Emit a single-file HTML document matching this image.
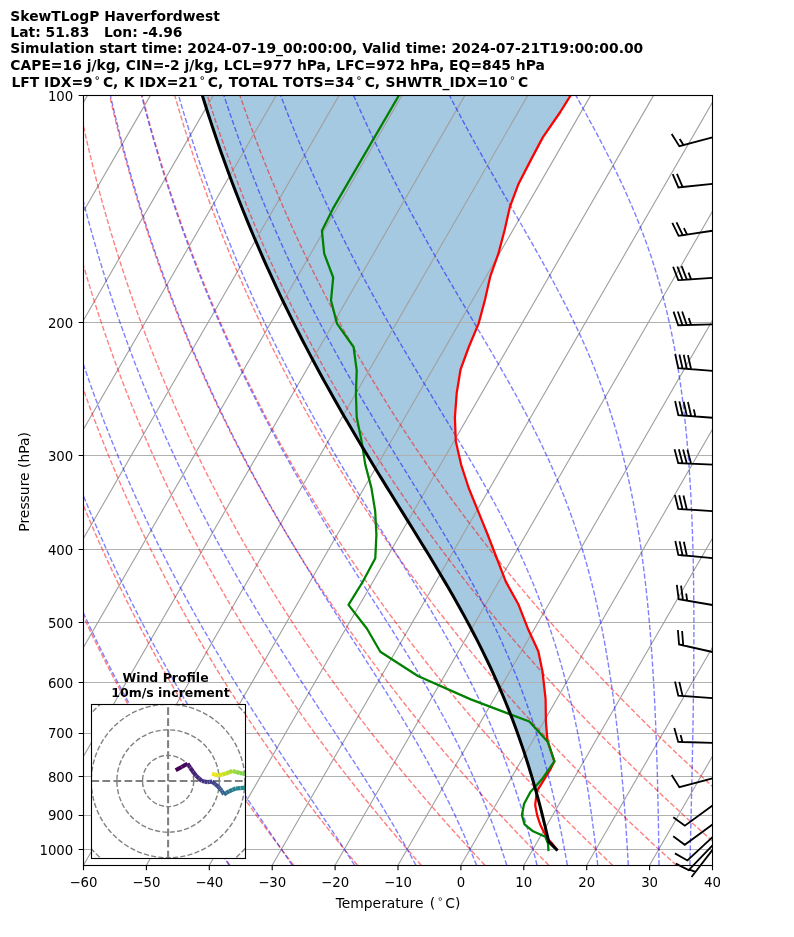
<!DOCTYPE html>
<html lang="en"><head><meta charset="utf-8"><title>SkewTLogP Haverfordwest</title>
<style>html,body{margin:0;padding:0;background:#fff}svg{display:block}</style></head>
<body>
<svg width="794" height="937" viewBox="0 0 794 937">
<defs><clipPath id="ax"><rect x="83.5" y="95.4" width="629.0" height="769.90"/></clipPath>
<clipPath id="ins"><rect x="91.4" y="704.6" width="154.1" height="153.8"/></clipPath></defs>
<rect width="794" height="937" fill="#fff"/>
<g clip-path="url(#ax)" fill="none">
<path d="M570.6 95.4 L569.16 97.73 L567.71 100.06 L566.27 102.38 L564.82 104.71 L563.38 107.04 L561.93 109.37 L560.49 111.69 L560.3 112 L558.91 114.02 L557.3 116.35 L555.7 118.68 L554.1 121.01 L552.49 123.33 L550.89 125.66 L549.28 127.99 L547.68 130.32 L546.08 132.64 L544.47 134.97 L542.87 137.3 L542.8 137.4 L541.62 139.63 L540.38 141.96 L539.15 144.28 L537.92 146.61 L536.68 148.94 L535.45 151.27 L534.21 153.59 L532.98 155.92 L531.75 158.25 L530.51 160.58 L530.5 160.6 L529.31 162.91 L528.11 165.23 L526.91 167.56 L525.72 169.89 L524.52 172.22 L523.32 174.54 L522.12 176.87 L520.92 179.2 L519.72 181.53 L518.6 183.7 L518.54 183.85 L517.66 186.18 L516.79 188.51 L515.91 190.84 L515.03 193.17 L514.16 195.49 L513.28 197.82 L512.4 200.15 L511.53 202.48 L510.65 204.8 L509.9 206.8 L509.82 207.13 L509.3 209.46 L508.77 211.79 L508.24 214.12 L507.72 216.44 L507.19 218.77 L506.66 221.1 L506.13 223.43 L505.61 225.75 L505.08 228.08 L504.6 230.2 L504.54 230.41 L503.93 232.74 L503.31 235.07 L502.7 237.39 L502.08 239.72 L501.47 242.05 L500.85 244.38 L500.24 246.7 L499.62 249.03 L499.01 251.36 L498.6 252.9 L498.32 253.69 L497.49 256.02 L496.67 258.34 L495.84 260.67 L495.02 263 L494.19 265.33 L493.37 267.65 L492.54 269.98 L491.72 272.31 L490.89 274.64 L490.3 276.3 L490.15 276.97 L489.62 279.29 L489.09 281.62 L488.57 283.95 L488.04 286.28 L487.51 288.6 L486.99 290.93 L486.46 293.26 L485.93 295.59 L485.4 297.92 L485 299.7 L484.85 300.24 L484.23 302.57 L483.61 304.9 L482.98 307.23 L482.36 309.55 L481.74 311.88 L481.11 314.21 L480.49 316.54 L479.87 318.86 L479.24 321.19 L478.62 323.52 L478.6 323.6 L477.66 325.85 L476.68 328.18 L475.71 330.5 L474.73 332.83 L473.76 335.16 L472.78 337.49 L471.81 339.81 L470.83 342.14 L469.86 344.47 L468.88 346.8 L468.8 347 L468.02 349.13 L467.17 351.45 L466.32 353.78 L465.47 356.11 L464.62 358.44 L463.77 360.76 L462.92 363.09 L462.06 365.42 L461.21 367.75 L460.5 369.7 L460.44 370.08 L460.06 372.4 L459.68 374.73 L459.3 377.06 L458.93 379.39 L458.55 381.71 L458.17 384.04 L457.79 386.37 L457.41 388.7 L457.04 391.03 L456.7 393.1 L456.68 393.35 L456.51 395.68 L456.33 398.01 L456.16 400.34 L455.99 402.66 L455.82 404.99 L455.64 407.32 L455.47 409.65 L455.3 411.98 L455.12 414.3 L454.95 416.63 L454.9 417.3 L454.96 418.96 L455.05 421.29 L455.14 423.61 L455.23 425.94 L455.31 428.27 L455.4 430.6 L455.49 432.93 L455.58 435.25 L455.66 437.58 L455.75 439.91 L455.8 441.2 L456.03 442.24 L456.56 444.56 L457.09 446.89 L457.62 449.22 L458.14 451.55 L458.67 453.87 L459.2 456.2 L459.73 458.53 L460.25 460.86 L460.78 463.19 L461.1 464.6 L461.4 465.51 L462.15 467.84 L462.91 470.17 L463.66 472.5 L464.42 474.82 L465.18 477.15 L465.93 479.48 L466.69 481.81 L467.44 484.14 L468.2 486.46 L468.7 488 L469.02 488.79 L469.97 491.12 L470.91 493.45 L471.86 495.77 L472.8 498.1 L473.75 500.43 L474.69 502.76 L475.64 505.09 L476.58 507.41 L477.53 509.74 L478.2 511.4 L478.47 512.07 L479.42 514.4 L480.37 516.72 L481.31 519.05 L482.26 521.38 L483.21 523.71 L484.16 526.04 L485.1 528.36 L486.05 530.69 L487 533.02 L487.6 534.5 L487.93 535.35 L488.83 537.67 L489.73 540 L490.63 542.33 L491.53 544.66 L492.43 546.99 L493.34 549.31 L494.24 551.64 L495.14 553.97 L496.04 556.3 L496.7 558 L496.94 558.62 L497.84 560.95 L498.73 563.28 L499.63 565.61 L500.52 567.94 L501.42 570.26 L502.31 572.59 L503.21 574.92 L504.1 577.25 L505 579.57 L505.7 581.4 L505.98 581.9 L507.26 584.23 L508.54 586.56 L509.83 588.88 L511.11 591.21 L512.39 593.54 L513.68 595.87 L514.96 598.2 L516.24 600.52 L517.53 602.85 L518.6 604.8 L518.75 605.18 L519.65 607.51 L520.56 609.83 L521.46 612.16 L522.37 614.49 L523.27 616.82 L524.18 619.15 L525.08 621.47 L525.99 623.8 L526.89 626.13 L527.7 628.2 L527.82 628.46 L528.89 630.78 L529.95 633.11 L531.02 635.44 L532.09 637.77 L533.16 640.1 L534.23 642.42 L535.29 644.75 L536.36 647.08 L537.43 649.41 L538.3 651.3 L538.39 651.73 L538.87 654.06 L539.36 656.39 L539.84 658.72 L540.33 661.05 L540.81 663.37 L541.29 665.7 L541.78 668.03 L542.26 670.36 L542.5 671.5 L542.63 672.68 L542.89 675.01 L543.15 677.34 L543.41 679.67 L543.67 682 L543.94 684.32 L544.2 686.65 L544.46 688.98 L544.72 691.31 L544.98 693.63 L545.24 695.96 L545.5 698.29 L545.6 699.2 L545.62 700.62 L545.65 702.95 L545.68 705.27 L545.71 707.6 L545.75 709.93 L545.78 712.26 L545.81 714.58 L545.84 716.91 L545.87 719.24 L545.9 721.3 L545.92 721.57 L546.11 723.89 L546.3 726.22 L546.49 728.55 L546.67 730.88 L546.86 733.21 L547.05 735.53 L547.24 737.86 L547.43 740.19 L547.5 741.1 L547.98 742.52 L548.78 744.84 L549.57 747.17 L550.37 749.5 L551.16 751.83 L551.96 754.16 L552.75 756.48 L553.55 758.81 L554.35 761.14 L554.4 761.3 L553.33 763.47 L552.18 765.79 L551.03 768.12 L550.1 770 L549.82 770.45 L548.37 772.78 L546.91 775.11 L545.46 777.43 L544 779.76 L542.55 782.09 L541.1 784.42 L539.64 786.74 L538.19 789.07 L536.8 791.3 L536.79 791.4 L536.06 791.4 L536.03 791.3 L535.41 789.07 L534.74 786.74 L534.08 784.42 L533.4 782.09 L532.72 779.76 L532.03 777.43 L531.34 775.11 L530.64 772.78 L529.93 770.45 L529.79 770 L529.21 768.12 L528.49 765.79 L527.76 763.47 L527.07 761.3 L527.02 761.14 L526.27 758.81 L525.52 756.48 L524.76 754.16 L523.99 751.83 L523.21 749.5 L522.43 747.17 L521.63 744.84 L520.84 742.52 L520.34 741.1 L520.02 740.19 L519.21 737.86 L518.38 735.53 L517.55 733.21 L516.71 730.88 L515.86 728.55 L515 726.22 L514.14 723.89 L513.26 721.57 L513.16 721.3 L512.38 719.24 L511.48 716.91 L510.58 714.58 L509.67 712.26 L508.76 709.93 L507.83 707.6 L506.89 705.27 L505.94 702.95 L504.99 700.62 L504.41 699.2 L504.03 698.29 L503.06 695.96 L502.08 693.63 L501.09 691.31 L500.09 688.98 L499.08 686.65 L498.06 684.32 L497.04 682 L496 679.67 L494.96 677.34 L493.91 675.01 L492.85 672.68 L492.31 671.5 L491.78 670.36 L490.7 668.03 L489.61 665.7 L488.51 663.37 L487.4 661.05 L486.29 658.72 L485.16 656.39 L484.03 654.06 L482.89 651.73 L482.67 651.3 L481.74 649.41 L480.58 647.08 L479.41 644.75 L478.23 642.42 L477.05 640.1 L475.86 637.77 L474.65 635.44 L473.44 633.11 L472.22 630.78 L471 628.46 L470.86 628.2 L469.76 626.13 L468.52 623.8 L467.27 621.47 L466.01 619.15 L464.74 616.82 L463.47 614.49 L462.19 612.16 L460.9 609.83 L459.61 607.51 L458.31 605.18 L458.09 604.8 L457 602.85 L455.68 600.52 L454.36 598.2 L453.03 595.87 L451.69 593.54 L450.35 591.21 L449 588.88 L447.65 586.56 L446.29 584.23 L444.93 581.9 L444.63 581.4 L443.56 579.57 L442.18 577.25 L440.8 574.92 L439.42 572.59 L438.03 570.26 L436.64 567.94 L435.24 565.61 L433.84 563.28 L432.43 560.95 L431.02 558.62 L430.64 558 L429.6 556.3 L428.19 553.97 L426.77 551.64 L425.35 549.31 L423.92 546.99 L422.49 544.66 L421.06 542.33 L419.63 540 L418.19 537.67 L416.75 535.35 L416.23 534.5 L415.31 533.02 L413.87 530.69 L412.43 528.36 L410.99 526.04 L409.54 523.71 L408.1 521.38 L406.65 519.05 L405.2 516.72 L403.75 514.4 L402.31 512.07 L401.89 511.4 L400.86 509.74 L399.41 507.41 L397.97 505.09 L396.52 502.76 L395.07 500.43 L393.63 498.1 L392.18 495.77 L390.74 493.45 L389.3 491.12 L387.85 488.79 L387.36 488 L386.41 486.46 L384.97 484.14 L383.54 481.81 L382.1 479.48 L380.67 477.15 L379.24 474.82 L377.81 472.5 L376.38 470.17 L374.96 467.84 L373.53 465.51 L372.98 464.6 L372.12 463.19 L370.7 460.86 L369.28 458.53 L367.87 456.2 L366.46 453.87 L365.06 451.55 L363.66 449.22 L362.26 446.89 L360.86 444.56 L359.47 442.24 L358.85 441.2 L358.08 439.91 L356.69 437.58 L355.31 435.25 L353.93 432.93 L352.56 430.6 L351.18 428.27 L349.82 425.94 L348.45 423.61 L347.09 421.29 L345.74 418.96 L344.77 417.3 L344.39 416.63 L343.04 414.3 L341.69 411.98 L340.36 409.65 L339.02 407.32 L337.69 404.99 L336.36 402.66 L335.04 400.34 L333.72 398.01 L332.41 395.68 L331.1 393.35 L330.96 393.1 L329.79 391.03 L328.49 388.7 L327.2 386.37 L325.91 384.04 L324.62 381.71 L323.34 379.39 L322.06 377.06 L320.79 374.73 L319.52 372.4 L318.25 370.08 L318.05 369.7 L317 367.75 L315.74 365.42 L314.49 363.09 L313.25 360.76 L312.01 358.44 L310.77 356.11 L309.54 353.78 L308.32 351.45 L307.1 349.13 L305.98 347 L305.88 346.8 L304.67 344.47 L303.46 342.14 L302.26 339.81 L301.06 337.49 L299.87 335.16 L298.68 332.83 L297.5 330.5 L296.32 328.18 L295.15 325.85 L294.02 323.6 L293.98 323.52 L292.82 321.19 L291.66 318.86 L290.51 316.54 L289.36 314.21 L288.22 311.88 L287.08 309.55 L285.95 307.23 L284.82 304.9 L283.69 302.57 L282.57 300.24 L282.31 299.7 L281.46 297.92 L280.35 295.59 L279.25 293.26 L278.14 290.93 L277.05 288.6 L275.96 286.28 L274.87 283.95 L273.79 281.62 L272.72 279.29 L271.65 276.97 L271.34 276.3 L270.58 274.64 L269.52 272.31 L268.46 269.98 L267.41 267.65 L266.37 265.33 L265.32 263 L264.29 260.67 L263.25 258.34 L262.22 256.02 L261.2 253.69 L260.86 252.9 L260.18 251.36 L259.17 249.03 L258.16 246.7 L257.16 244.38 L256.16 242.05 L255.16 239.72 L254.17 237.39 L253.19 235.07 L252.21 232.74 L251.23 230.41 L251.14 230.2 L250.26 228.08 L249.29 225.75 L248.33 223.43 L247.37 221.1 L246.42 218.77 L245.47 216.44 L244.53 214.12 L243.59 211.79 L242.66 209.46 L241.73 207.13 L241.59 206.8 L240.8 204.8 L239.88 202.48 L238.96 200.15 L238.06 197.82 L237.15 195.49 L236.25 193.17 L235.35 190.84 L234.46 188.51 L233.56 186.18 L232.68 183.85 L232.62 183.7 L231.8 181.53 L230.93 179.2 L230.06 176.87 L229.19 174.54 L228.33 172.22 L227.47 169.89 L226.62 167.56 L225.77 165.23 L224.93 162.91 L224.1 160.6 L224.09 160.58 L223.25 158.25 L222.42 155.92 L221.6 153.59 L220.78 151.27 L219.96 148.94 L219.14 146.61 L218.33 144.28 L217.53 141.96 L216.73 139.63 L215.97 137.4 L215.94 137.3 L215.14 134.97 L214.36 132.64 L213.57 130.32 L212.8 127.99 L212.02 125.66 L211.25 123.33 L210.49 121.01 L209.73 118.68 L208.97 116.35 L208.22 114.02 L207.57 112 L207.47 111.69 L206.72 109.37 L205.98 107.04 L205.25 104.71 L204.52 102.38 L203.79 100.06 L203.07 97.73 L202.35 95.4Z" fill="#1f77b4" fill-opacity="0.4" stroke="none"/>
<path d="M83.5 95.5 H712.5" stroke="#b0b0b0" stroke-width="1.11"/>
<path d="M83.5 322.5 H712.5" stroke="#b0b0b0" stroke-width="1.11"/>
<path d="M83.5 455.5 H712.5" stroke="#b0b0b0" stroke-width="1.11"/>
<path d="M83.5 549.5 H712.5" stroke="#b0b0b0" stroke-width="1.11"/>
<path d="M83.5 622.5 H712.5" stroke="#b0b0b0" stroke-width="1.11"/>
<path d="M83.5 682.5 H712.5" stroke="#b0b0b0" stroke-width="1.11"/>
<path d="M83.5 733.5 H712.5" stroke="#b0b0b0" stroke-width="1.11"/>
<path d="M83.5 776.5 H712.5" stroke="#b0b0b0" stroke-width="1.11"/>
<path d="M83.5 815.5 H712.5" stroke="#b0b0b0" stroke-width="1.11"/>
<path d="M83.5 849.5 H712.5" stroke="#b0b0b0" stroke-width="1.11"/>
<path d="M-419.7 865.24 L24.6 95.4 M-356.8 865.24 L87.5 95.4 M-293.9 865.24 L150.4 95.4 M-231 865.24 L213.3 95.4 M-168.1 865.24 L276.2 95.4 M-105.2 865.24 L339.1 95.4 M-42.3 865.24 L402 95.4 M20.6 865.24 L464.9 95.4 M83.5 865.24 L527.8 95.4 M146.4 865.24 L590.7 95.4 M209.3 865.24 L653.6 95.4 M272.2 865.24 L716.5 95.4 M335.1 865.24 L779.4 95.4 M398 865.24 L842.3 95.4 M460.9 865.24 L905.2 95.4 M523.8 865.24 L968.1 95.4 M586.7 865.24 L1031 95.4 M649.6 865.24 L1093.9 95.4 M712.5 865.24 L1156.8 95.4" stroke="#a0a0a0" stroke-width="1.11"/>
<path d="M229.89 865.24 L222.92 855.5 L216.06 845.75 L209.3 836.01 L202.65 826.26 L196.1 816.52 L189.66 806.77 L183.32 797.03 L177.08 787.28 L170.94 777.54 L164.9 767.79 L158.95 758.05 L153.11 748.3 L147.36 738.56 L141.71 728.81 L136.16 719.07 L130.7 709.32 L125.33 699.58 L120.06 689.83 L114.88 680.09 L109.79 670.34 L104.79 660.6 L99.88 650.85 L95.06 641.11 L90.33 631.36 L85.69 621.62 L81.13 611.88 L76.66 602.13 L72.27 592.39 L67.97 582.64 L63.76 572.9 L59.63 563.15 L55.58 553.41 L51.61 543.66 L47.72 533.92 L43.91 524.17 L40.19 514.43 L36.54 504.68 L32.97 494.94 L29.48 485.19 L26.07 475.45 L22.73 465.7 L19.47 455.96 L16.28 446.21 L13.17 436.47 L10.13 426.72 L7.17 416.98 L4.27 407.23 L1.45 397.49 L-1.29 387.74 L-3.97 378 L-6.58 368.25 L-9.11 358.51 L-11.58 348.77 L-13.98 339.02 L-16.31 329.28 L-18.58 319.53 L-20.78 309.79 L-22.91 300.04 L-24.97 290.3 L-26.97 280.55 L-28.91 270.81 L-30.78 261.06 L-32.59 251.32 L-34.33 241.57 L-36.02 231.83 L-37.64 222.08 L-39.2 212.34 L-40.7 202.59 L-42.14 192.85 L-43.51 183.1 L-44.83 173.36 L-46.09 163.61 L-47.3 153.87 L-48.44 144.12 L-49.53 134.38 L-50.56 124.63 L-51.53 114.89 L-52.45 105.14 L-53.32 95.4 M293.67 865.24 L286.16 855.5 L278.76 845.75 L271.48 836.01 L264.3 826.26 L257.23 816.52 L250.27 806.77 L243.41 797.03 L236.66 787.28 L230.02 777.54 L223.48 767.79 L217.04 758.05 L210.71 748.3 L204.47 738.56 L198.34 728.81 L192.3 719.07 L186.37 709.32 L180.53 699.58 L174.79 689.83 L169.14 680.09 L163.6 670.34 L158.14 660.6 L152.78 650.85 L147.51 641.11 L142.34 631.36 L137.25 621.62 L132.26 611.88 L127.36 602.13 L122.54 592.39 L117.82 582.64 L113.18 572.9 L108.63 563.15 L104.16 553.41 L99.78 543.66 L95.49 533.92 L91.28 524.17 L87.15 514.43 L83.1 504.68 L79.14 494.94 L75.26 485.19 L71.46 475.45 L67.74 465.7 L64.09 455.96 L60.53 446.21 L57.04 436.47 L53.63 426.72 L50.3 416.98 L47.04 407.23 L43.86 397.49 L40.75 387.74 L37.72 378 L34.76 368.25 L31.87 358.51 L29.06 348.77 L26.32 339.02 L23.64 329.28 L21.04 319.53 L18.51 309.79 L16.04 300.04 L13.65 290.3 L11.32 280.55 L9.06 270.81 L6.87 261.06 L4.74 251.32 L2.68 241.57 L0.68 231.83 L-1.25 222.08 L-3.12 212.34 L-4.92 202.59 L-6.66 192.85 L-8.34 183.1 L-9.96 173.36 L-11.52 163.61 L-13.01 153.87 L-14.45 144.12 L-15.82 134.38 L-17.14 124.63 L-18.4 114.89 L-19.59 105.14 L-20.74 95.4 M357.45 865.24 L349.4 855.5 L341.47 845.75 L333.65 836.01 L325.95 826.26 L318.36 816.52 L310.88 806.77 L303.51 797.03 L296.25 787.28 L289.1 777.54 L282.06 767.79 L275.13 758.05 L268.3 748.3 L261.58 738.56 L254.96 728.81 L248.45 719.07 L242.04 709.32 L235.73 699.58 L229.52 689.83 L223.41 680.09 L217.4 670.34 L211.49 660.6 L205.68 650.85 L199.97 641.11 L194.35 631.36 L188.82 621.62 L183.39 611.88 L178.06 602.13 L172.81 592.39 L167.66 582.64 L162.6 572.9 L157.63 563.15 L152.75 553.41 L147.96 543.66 L143.26 533.92 L138.64 524.17 L134.11 514.43 L129.67 504.68 L125.31 494.94 L121.04 485.19 L116.85 475.45 L112.74 465.7 L108.72 455.96 L104.78 446.21 L100.92 436.47 L97.14 426.72 L93.43 416.98 L89.81 407.23 L86.27 397.49 L82.8 387.74 L79.41 378 L76.1 368.25 L72.86 358.51 L69.7 348.77 L66.61 339.02 L63.6 329.28 L60.66 319.53 L57.79 309.79 L54.99 300.04 L52.27 290.3 L49.61 280.55 L47.03 270.81 L44.51 261.06 L42.07 251.32 L39.69 241.57 L37.38 231.83 L35.14 222.08 L32.96 212.34 L30.85 202.59 L28.81 192.85 L26.83 183.1 L24.91 173.36 L23.06 163.61 L21.27 153.87 L19.55 144.12 L17.88 134.38 L16.28 124.63 L14.74 114.89 L13.26 105.14 L11.84 95.4 M421.23 865.24 L412.65 855.5 L404.18 845.75 L395.83 836.01 L387.6 826.26 L379.49 816.52 L371.49 806.77 L363.61 797.03 L355.84 787.28 L348.19 777.54 L340.65 767.79 L333.22 758.05 L325.9 748.3 L318.69 738.56 L311.59 728.81 L304.59 719.07 L297.71 709.32 L290.93 699.58 L284.25 689.83 L277.68 680.09 L271.21 670.34 L264.84 660.6 L258.58 650.85 L252.42 641.11 L246.35 631.36 L240.39 621.62 L234.52 611.88 L228.75 602.13 L223.08 592.39 L217.5 582.64 L212.02 572.9 L206.63 563.15 L201.34 553.41 L196.14 543.66 L191.02 533.92 L186 524.17 L181.07 514.43 L176.23 504.68 L171.48 494.94 L166.82 485.19 L162.24 475.45 L157.75 465.7 L153.35 455.96 L149.03 446.21 L144.79 436.47 L140.64 426.72 L136.57 416.98 L132.58 407.23 L128.68 397.49 L124.85 387.74 L121.11 378 L117.44 368.25 L113.85 358.51 L110.34 348.77 L106.91 339.02 L103.56 329.28 L100.28 319.53 L97.07 309.79 L93.94 300.04 L90.89 290.3 L87.91 280.55 L85 270.81 L82.16 261.06 L79.4 251.32 L76.7 241.57 L74.08 231.83 L71.53 222.08 L69.04 212.34 L66.63 202.59 L64.28 192.85 L62 183.1 L59.79 173.36 L57.64 163.61 L55.56 153.87 L53.54 144.12 L51.59 134.38 L49.71 124.63 L47.88 114.89 L46.12 105.14 L44.42 95.4 M485.02 865.24 L475.89 855.5 L466.89 845.75 L458.01 836.01 L449.25 826.26 L440.61 816.52 L432.1 806.77 L423.7 797.03 L415.43 787.28 L407.27 777.54 L399.23 767.79 L391.3 758.05 L383.49 748.3 L375.79 738.56 L368.21 728.81 L360.74 719.07 L353.37 709.32 L346.12 699.58 L338.98 689.83 L331.95 680.09 L325.02 670.34 L318.2 660.6 L311.48 650.85 L304.87 641.11 L298.36 631.36 L291.96 621.62 L285.65 611.88 L279.45 602.13 L273.35 592.39 L267.35 582.64 L261.44 572.9 L255.64 563.15 L249.93 553.41 L244.31 543.66 L238.79 533.92 L233.37 524.17 L228.04 514.43 L222.8 504.68 L217.65 494.94 L212.6 485.19 L207.63 475.45 L202.76 465.7 L197.97 455.96 L193.28 446.21 L188.66 436.47 L184.14 426.72 L179.7 416.98 L175.35 407.23 L171.08 397.49 L166.9 387.74 L162.8 378 L158.78 368.25 L154.84 358.51 L150.98 348.77 L147.21 339.02 L143.51 329.28 L139.89 319.53 L136.35 309.79 L132.89 300.04 L129.51 290.3 L126.2 280.55 L122.97 270.81 L119.81 261.06 L116.73 251.32 L113.72 241.57 L110.78 231.83 L107.91 222.08 L105.12 212.34 L102.4 202.59 L99.75 192.85 L97.17 183.1 L94.66 173.36 L92.22 163.61 L89.84 153.87 L87.54 144.12 L85.3 134.38 L83.13 124.63 L81.02 114.89 L78.98 105.14 L77 95.4 M548.8 865.24 L539.13 855.5 L529.59 845.75 L520.18 836.01 L510.9 826.26 L501.74 816.52 L492.71 806.77 L483.8 797.03 L475.02 787.28 L466.35 777.54 L457.81 767.79 L449.39 758.05 L441.09 748.3 L432.9 738.56 L424.83 728.81 L416.88 719.07 L409.04 709.32 L401.32 699.58 L393.71 689.83 L386.21 680.09 L378.83 670.34 L371.55 660.6 L364.38 650.85 L357.32 641.11 L350.37 631.36 L343.52 621.62 L336.78 611.88 L330.15 602.13 L323.62 592.39 L317.19 582.64 L310.86 572.9 L304.64 563.15 L298.51 553.41 L292.49 543.66 L286.56 533.92 L280.73 524.17 L275 514.43 L269.36 504.68 L263.82 494.94 L258.38 485.19 L253.03 475.45 L247.77 465.7 L242.6 455.96 L237.52 446.21 L232.54 436.47 L227.64 426.72 L222.84 416.98 L218.12 407.23 L213.49 397.49 L208.95 387.74 L204.49 378 L200.12 368.25 L195.83 358.51 L191.63 348.77 L187.51 339.02 L183.47 329.28 L179.51 319.53 L175.64 309.79 L171.84 300.04 L168.13 290.3 L164.49 280.55 L160.94 270.81 L157.46 261.06 L154.05 251.32 L150.73 241.57 L147.48 231.83 L144.3 222.08 L141.2 212.34 L138.18 202.59 L135.22 192.85 L132.34 183.1 L129.53 173.36 L126.8 163.61 L124.13 153.87 L121.53 144.12 L119.01 134.38 L116.55 124.63 L114.16 114.89 L111.84 105.14 L109.58 95.4 M612.58 865.24 L602.37 855.5 L592.3 845.75 L582.36 836.01 L572.55 826.26 L562.87 816.52 L553.32 806.77 L543.9 797.03 L534.6 787.28 L525.44 777.54 L516.39 767.79 L507.48 758.05 L498.68 748.3 L490.01 738.56 L481.46 728.81 L473.03 719.07 L464.71 709.32 L456.52 699.58 L448.44 689.83 L440.48 680.09 L432.63 670.34 L424.9 660.6 L417.28 650.85 L409.77 641.11 L402.38 631.36 L395.09 621.62 L387.92 611.88 L380.85 602.13 L373.89 592.39 L367.03 582.64 L360.28 572.9 L353.64 563.15 L347.1 553.41 L340.66 543.66 L334.33 533.92 L328.1 524.17 L321.96 514.43 L315.93 504.68 L309.99 494.94 L304.16 485.19 L298.42 475.45 L292.77 465.7 L287.23 455.96 L281.77 446.21 L276.41 436.47 L271.15 426.72 L265.97 416.98 L260.89 407.23 L255.9 397.49 L250.99 387.74 L246.18 378 L241.46 368.25 L236.82 358.51 L232.27 348.77 L227.8 339.02 L223.42 329.28 L219.13 319.53 L214.92 309.79 L210.79 300.04 L206.75 290.3 L202.79 280.55 L198.9 270.81 L195.1 261.06 L191.38 251.32 L187.74 241.57 L184.18 231.83 L180.69 222.08 L177.28 212.34 L173.95 202.59 L170.69 192.85 L167.51 183.1 L164.41 173.36 L161.37 163.61 L158.41 153.87 L155.53 144.12 L152.71 134.38 L149.97 124.63 L147.3 114.89 L144.7 105.14 L142.16 95.4 M676.37 865.24 L665.62 855.5 L655.01 845.75 L644.53 836.01 L634.2 826.26 L624 816.52 L613.93 806.77 L604 797.03 L594.19 787.28 L584.52 777.54 L574.98 767.79 L565.56 758.05 L556.28 748.3 L547.12 738.56 L538.08 728.81 L529.17 719.07 L520.38 709.32 L511.72 699.58 L503.17 689.83 L494.75 680.09 L486.44 670.34 L478.25 660.6 L470.18 650.85 L462.23 641.11 L454.39 631.36 L446.66 621.62 L439.05 611.88 L431.55 602.13 L424.16 592.39 L416.88 582.64 L409.71 572.9 L402.64 563.15 L395.69 553.41 L388.84 543.66 L382.1 533.92 L375.46 524.17 L368.93 514.43 L362.49 504.68 L356.17 494.94 L349.94 485.19 L343.81 475.45 L337.78 465.7 L331.85 455.96 L326.02 446.21 L320.29 436.47 L314.65 426.72 L309.11 416.98 L303.66 407.23 L298.3 397.49 L293.04 387.74 L287.87 378 L282.79 368.25 L277.81 358.51 L272.91 348.77 L268.1 339.02 L263.38 329.28 L258.75 319.53 L254.2 309.79 L249.74 300.04 L245.37 290.3 L241.08 280.55 L236.87 270.81 L232.75 261.06 L228.71 251.32 L224.75 241.57 L220.88 231.83 L217.08 222.08 L213.36 212.34 L209.73 202.59 L206.17 192.85 L202.68 183.1 L199.28 173.36 L195.95 163.61 L192.7 153.87 L189.52 144.12 L186.42 134.38 L183.39 124.63 L180.44 114.89 L177.55 105.14 L174.74 95.4 M740.15 865.24 L728.86 855.5 L717.71 845.75 L706.71 836.01 L695.85 826.26 L685.12 816.52 L674.54 806.77 L664.09 797.03 L653.78 787.28 L643.6 777.54 L633.56 767.79 L623.65 758.05 L613.87 748.3 L604.22 738.56 L594.71 728.81 L585.32 719.07 L576.05 709.32 L566.91 699.58 L557.9 689.83 L549.01 680.09 L540.25 670.34 L531.6 660.6 L523.08 650.85 L514.68 641.11 L506.39 631.36 L498.23 621.62 L490.18 611.88 L482.24 602.13 L474.42 592.39 L466.72 582.64 L459.13 572.9 L451.65 563.15 L444.28 553.41 L437.02 543.66 L429.87 533.92 L422.82 524.17 L415.89 514.43 L409.06 504.68 L402.34 494.94 L395.72 485.19 L389.2 475.45 L382.79 465.7 L376.48 455.96 L370.27 446.21 L364.16 436.47 L358.15 426.72 L352.24 416.98 L346.43 407.23 L340.71 397.49 L335.09 387.74 L329.56 378 L324.13 368.25 L318.8 358.51 L313.55 348.77 L308.4 339.02 L303.34 329.28 L298.37 319.53 L293.48 309.79 L288.69 300.04 L283.99 290.3 L279.37 280.55 L274.84 270.81 L270.4 261.06 L266.04 251.32 L261.77 241.57 L257.57 231.83 L253.47 222.08 L249.44 212.34 L245.5 202.59 L241.64 192.85 L237.86 183.1 L234.15 173.36 L230.53 163.61 L226.99 153.87 L223.52 144.12 L220.13 134.38 L216.81 124.63 L213.58 114.89 L210.41 105.14 L207.32 95.4 M803.93 865.24 L792.1 855.5 L780.42 845.75 L768.89 836.01 L757.5 826.26 L746.25 816.52 L735.15 806.77 L724.19 797.03 L713.37 787.28 L702.69 777.54 L692.14 767.79 L681.74 758.05 L671.47 748.3 L661.33 738.56 L651.33 728.81 L641.46 719.07 L631.72 709.32 L622.11 699.58 L612.63 689.83 L603.28 680.09 L594.06 670.34 L584.96 660.6 L575.98 650.85 L567.13 641.11 L558.4 631.36 L549.79 621.62 L541.31 611.88 L532.94 602.13 L524.69 592.39 L516.56 582.64 L508.55 572.9 L500.65 563.15 L492.86 553.41 L485.19 543.66 L477.63 533.92 L470.19 524.17 L462.85 514.43 L455.62 504.68 L448.51 494.94 L441.5 485.19 L434.59 475.45 L427.8 465.7 L421.11 455.96 L414.52 446.21 L408.04 436.47 L401.65 426.72 L395.37 416.98 L389.2 407.23 L383.12 397.49 L377.14 387.74 L371.26 378 L365.47 368.25 L359.78 358.51 L354.19 348.77 L348.7 339.02 L343.29 329.28 L337.98 319.53 L332.77 309.79 L327.64 300.04 L322.61 290.3 L317.66 280.55 L312.81 270.81 L308.05 261.06 L303.37 251.32 L298.78 241.57 L294.27 231.83 L289.86 222.08 L285.52 212.34 L281.27 202.59 L277.11 192.85 L273.03 183.1 L269.03 173.36 L265.11 163.61 L261.27 153.87 L257.51 144.12 L253.84 134.38 L250.24 124.63 L246.72 114.89 L243.27 105.14 L239.9 95.4" stroke="#ff0000" stroke-opacity="0.5" stroke-width="1.39" stroke-dasharray="5.14 2.22"/>
<path d="M229.3 865.24 L218.52 849.27 L212.86 840.8 L207.25 832.33 L201.69 823.86 L196.18 815.38 L190.72 806.91 L185.33 798.44 L179.99 789.97 L174.71 781.5 L169.49 773.03 L164.34 764.56 L159.25 756.09 L154.23 747.62 L149.27 739.15 L144.38 730.68 L139.56 722.21 L134.8 713.74 L130.11 705.27 L125.49 696.8 L120.94 688.33 L116.45 679.86 L112.03 671.39 L107.67 662.92 L103.39 654.45 L99.17 645.98 L95.01 637.51 L90.92 629.04 L86.9 620.57 L82.94 612.09 L79.05 603.62 L75.22 595.15 L71.45 586.68 L67.75 578.21 L64.11 569.74 L60.53 561.27 L57.02 552.8 L53.56 544.33 L50.17 535.86 L46.84 527.39 L43.57 518.92 L40.36 510.45 L37.21 501.98 L34.12 493.51 L31.08 485.04 L28.11 476.57 L25.19 468.1 L22.33 459.63 L19.53 451.16 L16.78 442.69 L14.09 434.22 L11.46 425.75 L8.88 417.28 L6.35 408.81 L3.88 400.33 L1.47 391.86 L-0.89 383.39 L-3.2 374.92 L-5.46 366.45 L-7.66 357.98 L-9.81 349.51 L-11.91 341.04 L-13.96 332.57 L-15.95 324.1 L-17.9 315.63 L-19.79 307.16 L-21.64 298.69 L-23.43 290.22 L-25.18 281.75 L-26.88 273.28 L-28.53 264.81 L-30.13 256.34 L-31.68 247.87 L-33.19 239.4 L-34.65 230.93 L-36.06 222.46 L-37.43 213.99 L-38.75 205.52 L-40.02 197.04 L-41.25 188.57 L-42.44 180.1 L-43.58 171.63 L-44.67 163.16 L-45.72 154.69 L-46.73 146.22 L-47.69 137.75 L-48.62 129.28 L-49.49 120.81 L-50.33 112.34 L-51.12 103.87 L-51.88 95.4 M292.28 865.24 L281.42 849.27 L275.66 840.8 L269.91 832.33 L264.17 823.86 L258.46 815.38 L252.78 806.91 L247.12 798.44 L241.51 789.97 L235.93 781.5 L230.4 773.03 L224.92 764.56 L219.49 756.09 L214.12 747.62 L208.8 739.15 L203.54 730.68 L198.34 722.21 L193.2 713.74 L188.12 705.27 L183.11 696.8 L178.16 688.33 L173.28 679.86 L168.47 671.39 L163.72 662.92 L159.03 654.45 L154.42 645.98 L149.87 637.51 L145.38 629.04 L140.97 620.57 L136.62 612.09 L132.34 603.62 L128.12 595.15 L123.97 586.68 L119.88 578.21 L115.86 569.74 L111.91 561.27 L108.01 552.8 L104.19 544.33 L100.42 535.86 L96.72 527.39 L93.09 518.92 L89.51 510.45 L86 501.98 L82.55 493.51 L79.16 485.04 L75.83 476.57 L72.56 468.1 L69.36 459.63 L66.21 451.16 L63.12 442.69 L60.09 434.22 L57.12 425.75 L54.2 417.28 L51.34 408.81 L48.54 400.33 L45.8 391.86 L43.11 383.39 L40.48 374.92 L37.9 366.45 L35.38 357.98 L32.91 349.51 L30.5 341.04 L28.14 332.57 L25.83 324.1 L23.58 315.63 L21.38 307.16 L19.23 298.69 L17.14 290.22 L15.09 281.75 L13.1 273.28 L11.15 264.81 L9.26 256.34 L7.42 247.87 L5.62 239.4 L3.88 230.93 L2.18 222.46 L0.53 213.99 L-1.07 205.52 L-2.62 197.04 L-4.12 188.57 L-5.58 180.1 L-6.99 171.63 L-8.36 163.16 L-9.67 154.69 L-10.95 146.22 L-12.17 137.75 L-13.36 129.28 L-14.49 120.81 L-15.59 112.34 L-16.64 103.87 L-17.64 95.4 M354.55 865.24 L344.32 849.27 L338.81 840.8 L333.26 832.33 L327.67 823.86 L322.05 815.38 L316.41 806.91 L310.75 798.44 L305.08 789.97 L299.42 781.5 L293.76 773.03 L288.11 764.56 L282.48 756.09 L276.88 747.62 L271.31 739.15 L265.78 730.68 L260.28 722.21 L254.83 713.74 L249.42 705.27 L244.06 696.8 L238.76 688.33 L233.51 679.86 L228.32 671.39 L223.19 662.92 L218.13 654.45 L213.12 645.98 L208.17 637.51 L203.29 629.04 L198.48 620.57 L193.73 612.09 L189.05 603.62 L184.43 595.15 L179.88 586.68 L175.39 578.21 L170.97 569.74 L166.62 561.27 L162.33 552.8 L158.11 544.33 L153.96 535.86 L149.87 527.39 L145.84 518.92 L141.88 510.45 L137.99 501.98 L134.16 493.51 L130.39 485.04 L126.68 476.57 L123.04 468.1 L119.46 459.63 L115.95 451.16 L112.49 442.69 L109.1 434.22 L105.77 425.75 L102.49 417.28 L99.28 408.81 L96.13 400.33 L93.03 391.86 L90 383.39 L87.02 374.92 L84.1 366.45 L81.24 357.98 L78.44 349.51 L75.69 341.04 L73 332.57 L70.36 324.1 L67.78 315.63 L65.25 307.16 L62.78 298.69 L60.37 290.22 L58 281.75 L55.69 273.28 L53.44 264.81 L51.23 256.34 L49.08 247.87 L46.98 239.4 L44.93 230.93 L42.93 222.46 L40.98 213.99 L39.09 205.52 L37.24 197.04 L35.44 188.57 L33.69 180.1 L31.99 171.63 L30.34 163.16 L28.74 154.69 L27.18 146.22 L25.68 137.75 L24.22 129.28 L22.8 120.81 L21.43 112.34 L20.11 103.87 L18.84 95.4 M415.93 865.24 L407.22 849.27 L402.45 840.8 L397.59 832.33 L392.63 823.86 L387.57 815.38 L382.44 806.91 L377.23 798.44 L371.95 789.97 L366.6 781.5 L361.2 773.03 L355.76 764.56 L350.27 756.09 L344.75 747.62 L339.21 739.15 L333.65 730.68 L328.09 722.21 L322.52 713.74 L316.97 705.27 L311.42 696.8 L305.89 688.33 L300.39 679.86 L294.92 671.39 L289.49 662.92 L284.1 654.45 L278.74 645.98 L273.44 637.51 L268.19 629.04 L262.99 620.57 L257.84 612.09 L252.76 603.62 L247.73 595.15 L242.76 586.68 L237.85 578.21 L233.01 569.74 L228.23 561.27 L223.52 552.8 L218.87 544.33 L214.29 535.86 L209.77 527.39 L205.32 518.92 L200.93 510.45 L196.61 501.98 L192.36 493.51 L188.17 485.04 L184.04 476.57 L179.98 468.1 L175.99 459.63 L172.06 451.16 L168.2 442.69 L164.39 434.22 L160.66 425.75 L156.98 417.28 L153.37 408.81 L149.82 400.33 L146.33 391.86 L142.9 383.39 L139.54 374.92 L136.23 366.45 L132.99 357.98 L129.8 349.51 L126.68 341.04 L123.61 332.57 L120.6 324.1 L117.65 315.63 L114.76 307.16 L111.92 298.69 L109.15 290.22 L106.42 281.75 L103.76 273.28 L101.15 264.81 L98.59 256.34 L96.09 247.87 L93.64 239.4 L91.25 230.93 L88.91 222.46 L86.63 213.99 L84.39 205.52 L82.21 197.04 L80.09 188.57 L78.01 180.1 L75.98 171.63 L74.01 163.16 L72.08 154.69 L70.21 146.22 L68.39 137.75 L66.61 129.28 L64.88 120.81 L63.21 112.34 L61.58 103.87 L60 95.4 M476.59 865.24 L470.12 849.27 L466.53 840.8 L462.83 832.33 L459.02 823.86 L455.09 815.38 L451.05 806.91 L446.89 798.44 L442.62 789.97 L438.24 781.5 L433.75 773.03 L429.15 764.56 L424.44 756.09 L419.64 747.62 L414.75 739.15 L409.76 730.68 L404.7 722.21 L399.56 713.74 L394.35 705.27 L389.08 696.8 L383.77 688.33 L378.41 679.86 L373.01 671.39 L367.59 662.92 L362.15 654.45 L356.7 645.98 L351.25 637.51 L345.8 629.04 L340.37 620.57 L334.95 612.09 L329.56 603.62 L324.19 595.15 L318.86 586.68 L313.57 578.21 L308.33 569.74 L303.12 561.27 L297.97 552.8 L292.87 544.33 L287.83 535.86 L282.84 527.39 L277.91 518.92 L273.05 510.45 L268.24 501.98 L263.5 493.51 L258.82 485.04 L254.2 476.57 L249.65 468.1 L245.16 459.63 L240.74 451.16 L236.38 442.69 L232.09 434.22 L227.86 425.75 L223.7 417.28 L219.6 408.81 L215.57 400.33 L211.6 391.86 L207.7 383.39 L203.86 374.92 L200.08 366.45 L196.37 357.98 L192.72 349.51 L189.13 341.04 L185.61 332.57 L182.14 324.1 L178.74 315.63 L175.4 307.16 L172.12 298.69 L168.9 290.22 L165.74 281.75 L162.63 273.28 L159.59 264.81 L156.61 256.34 L153.68 247.87 L150.81 239.4 L148 230.93 L145.24 222.46 L142.54 213.99 L139.9 205.52 L137.31 197.04 L134.77 188.57 L132.29 180.1 L129.87 171.63 L127.5 163.16 L125.18 154.69 L122.91 146.22 L120.7 137.75 L118.54 129.28 L116.43 120.81 L114.38 112.34 L112.37 103.87 L110.42 95.4 M506.8 865.24 L501.57 849.27 L498.66 840.8 L495.65 832.33 L492.53 823.86 L489.31 815.38 L485.98 806.91 L482.54 798.44 L478.99 789.97 L475.32 781.5 L471.54 773.03 L467.64 764.56 L463.62 756.09 L459.49 747.62 L455.24 739.15 L450.88 730.68 L446.41 722.21 L441.84 713.74 L437.16 705.27 L432.38 696.8 L427.51 688.33 L422.55 679.86 L417.52 671.39 L412.41 662.92 L407.24 654.45 L402.01 645.98 L396.74 637.51 L391.42 629.04 L386.08 620.57 L380.71 612.09 L375.33 603.62 L369.95 595.15 L364.56 586.68 L359.19 578.21 L353.83 569.74 L348.49 561.27 L343.17 552.8 L337.89 544.33 L332.65 535.86 L327.45 527.39 L322.29 518.92 L317.19 510.45 L312.13 501.98 L307.13 493.51 L302.18 485.04 L297.29 476.57 L292.46 468.1 L287.7 459.63 L282.99 451.16 L278.35 442.69 L273.77 434.22 L269.25 425.75 L264.8 417.28 L260.41 408.81 L256.09 400.33 L251.83 391.86 L247.64 383.39 L243.52 374.92 L239.45 366.45 L235.45 357.98 L231.52 349.51 L227.65 341.04 L223.84 332.57 L220.1 324.1 L216.42 315.63 L212.8 307.16 L209.25 298.69 L205.76 290.22 L202.32 281.75 L198.95 273.28 L195.64 264.81 L192.39 256.34 L189.2 247.87 L186.07 239.4 L183 230.93 L179.98 222.46 L177.03 213.99 L174.13 205.52 L171.29 197.04 L168.51 188.57 L165.78 180.1 L163.11 171.63 L160.49 163.16 L157.93 154.69 L155.43 146.22 L152.97 137.75 L150.58 129.28 L148.23 120.81 L145.94 112.34 L143.71 103.87 L141.52 95.4 M537.02 865.24 L533.02 849.27 L530.78 840.8 L528.47 832.33 L526.07 823.86 L523.58 815.38 L521 806.91 L518.33 798.44 L515.56 789.97 L512.69 781.5 L509.72 773.03 L506.64 764.56 L503.45 756.09 L500.15 747.62 L496.73 739.15 L493.2 730.68 L489.55 722.21 L485.78 713.74 L481.9 705.27 L477.89 696.8 L473.77 688.33 L469.53 679.86 L465.18 671.39 L460.73 662.92 L456.16 654.45 L451.49 645.98 L446.73 637.51 L441.88 629.04 L436.94 620.57 L431.93 612.09 L426.86 603.62 L421.72 595.15 L416.53 586.68 L411.3 578.21 L406.04 569.74 L400.75 561.27 L395.45 552.8 L390.14 544.33 L384.83 535.86 L379.52 527.39 L374.23 518.92 L368.96 510.45 L363.72 501.98 L358.5 493.51 L353.32 485.04 L348.19 476.57 L343.09 468.1 L338.05 459.63 L333.05 451.16 L328.11 442.69 L323.23 434.22 L318.4 425.75 L313.63 417.28 L308.92 408.81 L304.27 400.33 L299.69 391.86 L295.17 383.39 L290.71 374.92 L286.32 366.45 L281.99 357.98 L277.72 349.51 L273.52 341.04 L269.38 332.57 L265.31 324.1 L261.31 315.63 L257.36 307.16 L253.48 298.69 L249.67 290.22 L245.91 281.75 L242.22 273.28 L238.6 264.81 L235.03 256.34 L231.53 247.87 L228.09 239.4 L224.71 230.93 L221.39 222.46 L218.13 213.99 L214.93 205.52 L211.79 197.04 L208.71 188.57 L205.68 180.1 L202.72 171.63 L199.81 163.16 L196.96 154.69 L194.17 146.22 L191.43 137.75 L188.75 129.28 L186.13 120.81 L183.56 112.34 L181.04 103.87 L178.58 95.4 M567.33 865.24 L564.47 849.27 L562.87 840.8 L561.22 832.33 L559.5 823.86 L557.72 815.38 L555.87 806.91 L553.95 798.44 L551.96 789.97 L549.88 781.5 L547.73 773.03 L545.49 764.56 L543.17 756.09 L540.76 747.62 L538.25 739.15 L535.64 730.68 L532.94 722.21 L530.13 713.74 L527.21 705.27 L524.18 696.8 L521.04 688.33 L517.79 679.86 L514.42 671.39 L510.92 662.92 L507.31 654.45 L503.58 645.98 L499.73 637.51 L495.76 629.04 L491.67 620.57 L487.46 612.09 L483.14 603.62 L478.71 595.15 L474.17 586.68 L469.54 578.21 L464.81 569.74 L459.99 561.27 L455.09 552.8 L450.13 544.33 L445.1 535.86 L440.01 527.39 L434.88 518.92 L429.72 510.45 L424.52 501.98 L419.31 493.51 L414.08 485.04 L408.85 476.57 L403.63 468.1 L398.42 459.63 L393.23 451.16 L388.06 442.69 L382.92 434.22 L377.82 425.75 L372.75 417.28 L367.73 408.81 L362.76 400.33 L357.83 391.86 L352.96 383.39 L348.14 374.92 L343.38 366.45 L338.68 357.98 L334.04 349.51 L329.46 341.04 L324.94 332.57 L320.48 324.1 L316.09 315.63 L311.76 307.16 L307.5 298.69 L303.29 290.22 L299.16 281.75 L295.08 273.28 L291.07 264.81 L287.13 256.34 L283.25 247.87 L279.43 239.4 L275.67 230.93 L271.98 222.46 L268.35 213.99 L264.78 205.52 L261.28 197.04 L257.83 188.57 L254.45 180.1 L251.13 171.63 L247.86 163.16 L244.66 154.69 L241.52 146.22 L238.43 137.75 L235.41 129.28 L232.44 120.81 L229.53 112.34 L226.68 103.87 L223.88 95.4 M597.75 865.24 L595.92 849.27 L594.9 840.8 L593.83 832.33 L592.73 823.86 L591.59 815.38 L590.39 806.91 L589.16 798.44 L587.87 789.97 L586.53 781.5 L585.13 773.03 L583.68 764.56 L582.17 756.09 L580.59 747.62 L578.95 739.15 L577.24 730.68 L575.46 722.21 L573.6 713.74 L571.66 705.27 L569.64 696.8 L567.54 688.33 L565.35 679.86 L563.06 671.39 L560.68 662.92 L558.2 654.45 L555.62 645.98 L552.92 637.51 L550.13 629.04 L547.21 620.57 L544.19 612.09 L541.04 603.62 L537.77 595.15 L534.39 586.68 L530.88 578.21 L527.25 569.74 L523.49 561.27 L519.61 552.8 L515.61 544.33 L511.49 535.86 L507.26 527.39 L502.91 518.92 L498.46 510.45 L493.91 501.98 L489.27 493.51 L484.53 485.04 L479.72 476.57 L474.84 468.1 L469.89 459.63 L464.9 451.16 L459.85 442.69 L454.78 434.22 L449.67 425.75 L444.56 417.28 L439.43 408.81 L434.3 400.33 L429.18 391.86 L424.07 383.39 L418.98 374.92 L413.92 366.45 L408.89 357.98 L403.9 349.51 L398.95 341.04 L394.04 332.57 L389.18 324.1 L384.37 315.63 L379.62 307.16 L374.92 298.69 L370.27 290.22 L365.69 281.75 L361.17 273.28 L356.7 264.81 L352.3 256.34 L347.97 247.87 L343.69 239.4 L339.48 230.93 L335.33 222.46 L331.24 213.99 L327.22 205.52 L323.27 197.04 L319.37 188.57 L315.54 180.1 L311.77 171.63 L308.07 163.16 L304.42 154.69 L300.84 146.22 L297.32 137.75 L293.87 129.28 L290.47 120.81 L287.13 112.34 L283.86 103.87 L280.64 95.4 M628.31 865.24 L627.37 849.27 L626.84 840.8 L626.29 832.33 L625.71 823.86 L625.11 815.38 L624.48 806.91 L623.83 798.44 L623.14 789.97 L622.43 781.5 L621.68 773.03 L620.9 764.56 L620.08 756.09 L619.22 747.62 L618.33 739.15 L617.39 730.68 L616.41 722.21 L615.38 713.74 L614.31 705.27 L613.18 696.8 L612 688.33 L610.76 679.86 L609.47 671.39 L608.11 662.92 L606.69 654.45 L605.2 645.98 L603.64 637.51 L602.01 629.04 L600.3 620.57 L598.51 612.09 L596.63 603.62 L594.67 595.15 L592.61 586.68 L590.46 578.21 L588.21 569.74 L585.86 561.27 L583.4 552.8 L580.83 544.33 L578.15 535.86 L575.36 527.39 L572.44 518.92 L569.4 510.45 L566.25 501.98 L562.96 493.51 L559.55 485.04 L556.01 476.57 L552.35 468.1 L548.56 459.63 L544.65 451.16 L540.62 442.69 L536.47 434.22 L532.21 425.75 L527.84 417.28 L523.37 408.81 L518.81 400.33 L514.16 391.86 L509.43 383.39 L504.64 374.92 L499.79 366.45 L494.88 357.98 L489.94 349.51 L484.97 341.04 L479.97 332.57 L474.96 324.1 L469.95 315.63 L464.94 307.16 L459.94 298.69 L454.96 290.22 L450 281.75 L445.07 273.28 L440.17 264.81 L435.32 256.34 L430.51 247.87 L425.74 239.4 L421.02 230.93 L416.36 222.46 L411.75 213.99 L407.2 205.52 L402.7 197.04 L398.26 188.57 L393.89 180.1 L389.57 171.63 L385.32 163.16 L381.13 154.69 L377 146.22 L372.94 137.75 L368.93 129.28 L364.99 120.81 L361.12 112.34 L357.31 103.87 L353.55 95.4 M659.03 865.24 L658.82 849.27 L658.7 840.8 L658.56 832.33 L658.42 823.86 L658.27 815.38 L658.1 806.91 L657.92 798.44 L657.73 789.97 L657.52 781.5 L657.3 773.03 L657.06 764.56 L656.8 756.09 L656.53 747.62 L656.23 739.15 L655.91 730.68 L655.57 722.21 L655.21 713.74 L654.82 705.27 L654.4 696.8 L653.96 688.33 L653.48 679.86 L652.98 671.39 L652.44 662.92 L651.87 654.45 L651.27 645.98 L650.62 637.51 L649.94 629.04 L649.21 620.57 L648.44 612.09 L647.62 603.62 L646.76 595.15 L645.84 586.68 L644.87 578.21 L643.84 569.74 L642.75 561.27 L641.61 552.8 L640.39 544.33 L639.11 535.86 L637.76 527.39 L636.33 518.92 L634.82 510.45 L633.24 501.98 L631.56 493.51 L629.8 485.04 L627.95 476.57 L625.99 468.1 L623.94 459.63 L621.79 451.16 L619.52 442.69 L617.14 434.22 L614.65 425.75 L612.04 417.28 L609.31 408.81 L606.45 400.33 L603.47 391.86 L600.36 383.39 L597.11 374.92 L593.74 366.45 L590.24 357.98 L586.61 349.51 L582.85 341.04 L578.97 332.57 L574.97 324.1 L570.85 315.63 L566.62 307.16 L562.29 298.69 L557.86 290.22 L553.35 281.75 L548.76 273.28 L544.1 264.81 L539.38 256.34 L534.61 247.87 L529.8 239.4 L524.96 230.93 L520.09 222.46 L515.22 213.99 L510.34 205.52 L505.47 197.04 L500.61 188.57 L495.77 180.1 L490.95 171.63 L486.17 163.16 L481.42 154.69 L476.71 146.22 L472.04 137.75 L467.42 129.28 L462.86 120.81 L458.34 112.34 L453.88 103.87 L449.48 95.4 M689.88 865.24 L690.27 849.27 L690.48 840.8 L690.68 832.33 L690.88 823.86 L691.09 815.38 L691.28 806.91 L691.48 798.44 L691.67 789.97 L691.86 781.5 L692.05 773.03 L692.23 764.56 L692.4 756.09 L692.57 747.62 L692.73 739.15 L692.89 730.68 L693.03 722.21 L693.17 713.74 L693.3 705.27 L693.41 696.8 L693.52 688.33 L693.62 679.86 L693.7 671.39 L693.77 662.92 L693.83 654.45 L693.87 645.98 L693.89 637.51 L693.9 629.04 L693.89 620.57 L693.86 612.09 L693.81 603.62 L693.74 595.15 L693.65 586.68 L693.53 578.21 L693.39 569.74 L693.22 561.27 L693.02 552.8 L692.8 544.33 L692.54 535.86 L692.25 527.39 L691.93 518.92 L691.57 510.45 L691.17 501.98 L690.74 493.51 L690.26 485.04 L689.73 476.57 L689.17 468.1 L688.55 459.63 L687.88 451.16 L687.16 442.69 L686.38 434.22 L685.54 425.75 L684.64 417.28 L683.67 408.81 L682.64 400.33 L681.53 391.86 L680.35 383.39 L679.09 374.92 L677.75 366.45 L676.32 357.98 L674.8 349.51 L673.19 341.04 L671.48 332.57 L669.66 324.1 L667.74 315.63 L665.71 307.16 L663.57 298.69 L661.31 290.22 L658.92 281.75 L656.41 273.28 L653.78 264.81 L651.01 256.34 L648.11 247.87 L645.08 239.4 L641.91 230.93 L638.6 222.46 L635.17 213.99 L631.6 205.52 L627.9 197.04 L624.08 188.57 L620.14 180.1 L616.08 171.63 L611.92 163.16 L607.66 154.69 L603.31 146.22 L598.88 137.75 L594.38 129.28 L589.82 120.81 L585.21 112.34 L580.56 103.87 L575.88 95.4" stroke="#0000ff" stroke-opacity="0.5" stroke-width="1.39" stroke-dasharray="5.14 2.22"/>
<path d="M570.6 95.4 L560.3 112 L542.8 137.4 L530.5 160.6 L518.6 183.7 L509.9 206.8 L504.6 230.2 L498.6 252.9 L490.3 276.3 L485 299.7 L478.6 323.6 L468.8 347 L460.5 369.7 L456.7 393.1 L454.9 417.3 L455.8 441.2 L461.1 464.6 L468.7 488 L478.2 511.4 L487.6 534.5 L496.7 558 L505.7 581.4 L518.6 604.8 L527.7 628.2 L538.3 651.3 L542.5 671.5 L545.6 699.2 L545.9 721.3 L547.5 741.1 L554.4 761.3 L550.1 770 L536.8 791.3 L535.2 805.2 L537.3 815.9 L540.2 824.4 L542.7 829.7 L547.5 838.8 L552.3 843.6 L557.6 850.5" stroke="#ff0000" stroke-width="2.25" stroke-linejoin="round"/>
<path d="M398.9 95.4 L332.8 208.9 L321.9 230.7 L324.2 253.6 L333.2 277.5 L331 300.5 L337 323.6 L353.6 347 L356.7 370.5 L355.9 393.9 L356.7 417.3 L361.6 441.2 L365.3 464.6 L371.4 487.9 L375.2 511.2 L376.4 534.6 L375.3 558.2 L362.6 582 L348.5 604.9 L367 628.7 L380.3 651.7 L417.9 676 L470.8 699.4 L529.3 721.5 L548 742 L554.4 761.3 L542.1 779.1 L530.4 791.9 L524 804.1 L521.9 815.3 L524.5 824.4 L533.1 831.3 L545.3 836.7 L548 843.6 L548.5 851.1" stroke="#008000" stroke-width="2.25" stroke-linejoin="round"/>
<path d="M557.46 850.51 L548.67 841.65 L547.6 836.93 L546.5 832.22 L545.39 827.51 L544.25 822.79 L543.09 818.08 L541.91 813.36 L540.7 808.65 L539.47 803.94 L538.21 799.22 L536.92 794.51 L535.61 789.79 L534.27 785.08 L532.9 780.37 L531.51 775.65 L530.08 770.94 L528.63 766.22 L527.14 761.51 L525.62 756.79 L524.08 752.08 L522.5 747.37 L520.88 742.65 L519.24 737.94 L517.56 733.22 L515.85 728.51 L514.1 723.8 L512.32 719.08 L510.5 714.37 L508.65 709.65 L506.76 704.94 L504.83 700.23 L502.87 695.51 L500.87 690.8 L498.84 686.08 L496.77 681.37 L494.66 676.66 L492.51 671.94 L490.33 667.23 L488.11 662.51 L485.85 657.8 L483.56 653.09 L481.23 648.37 L478.86 643.66 L476.46 638.94 L474.03 634.23 L471.56 629.51 L469.06 624.8 L466.52 620.09 L463.96 615.37 L461.36 610.66 L458.74 605.94 L456.08 601.23 L453.4 596.52 L450.69 591.8 L447.96 587.09 L445.21 582.37 L442.43 577.66 L439.63 572.95 L436.81 568.23 L433.98 563.52 L431.13 558.8 L428.26 554.09 L425.38 549.38 L422.49 544.66 L419.59 539.95 L416.68 535.23 L413.77 530.52 L410.84 525.8 L407.92 521.09 L404.99 516.38 L402.05 511.66 L399.12 506.95 L396.19 502.23 L393.26 497.52 L390.34 492.81 L387.42 488.09 L384.51 483.38 L381.6 478.66 L378.7 473.95 L375.81 469.24 L372.93 464.52 L370.06 459.81 L367.2 455.09 L364.35 450.38 L361.52 445.67 L358.7 440.95 L355.89 436.24 L353.1 431.52 L350.32 426.81 L347.56 422.1 L344.82 417.38 L342.09 412.67 L339.38 407.95 L336.69 403.24 L334.01 398.52 L331.35 393.81 L328.71 389.1 L326.09 384.38 L323.49 379.67 L320.91 374.95 L318.34 370.24 L315.8 365.53 L313.27 360.81 L310.77 356.1 L308.28 351.38 L305.81 346.67 L303.36 341.96 L300.94 337.24 L298.53 332.53 L296.14 327.81 L293.77 323.1 L291.42 318.39 L289.1 313.67 L286.79 308.96 L284.5 304.24 L282.23 299.53 L279.98 294.81 L277.75 290.1 L275.54 285.39 L273.35 280.67 L271.18 275.96 L269.03 271.24 L266.9 266.53 L264.79 261.82 L262.7 257.1 L260.63 252.39 L258.58 247.67 L256.55 242.96 L254.53 238.25 L252.54 233.53 L250.56 228.82 L248.61 224.1 L246.67 219.39 L244.75 214.68 L242.86 209.96 L240.98 205.25 L239.11 200.53 L237.27 195.82 L235.45 191.11 L233.64 186.39 L231.86 181.68 L230.09 176.96 L228.34 172.25 L226.61 167.53 L224.9 162.82 L223.2 158.11 L221.52 153.39 L219.86 148.68 L218.22 143.96 L216.6 139.25 L215 134.54 L213.41 129.82 L211.84 125.11 L210.29 120.39 L208.75 115.68 L207.23 110.97 L205.73 106.25 L204.25 101.54 L202.79 96.82 L201.34 92.11" stroke="#000" stroke-width="3.0" stroke-linejoin="round" stroke-linecap="butt"/>
</g>
<path d="M712.5 137.3 L679.37 146.18 L671.68 134.03 L679.37 146.18 L683.51 145.07 L679.66 139 L683.51 145.07 L712.5 137.3Z M712.5 183.9 L678.38 187.43 L672.71 174.22 L678.38 187.43 L682.65 186.99 L676.97 173.78 L682.65 186.99 L712.5 183.9Z M712.5 230.75 L678.59 235.88 L672.29 222.95 L678.59 235.88 L682.82 235.24 L676.53 222.31 L682.82 235.24 L687.06 234.6 L683.92 228.13 L687.06 234.6 L712.5 230.75Z M712.5 277.9 L678.28 280.17 L673.09 266.77 L678.28 280.17 L682.55 279.89 L677.37 266.48 L682.55 279.89 L686.83 279.6 L681.64 266.2 L686.83 279.6 L691.11 279.32 L688.52 272.62 L691.11 279.32 L712.5 277.9Z M712.5 324.3 L678.21 325.26 L673.54 311.66 L678.21 325.26 L682.5 325.14 L677.83 311.54 L682.5 325.14 L686.79 325.02 L682.12 311.42 L686.79 325.02 L691.07 324.9 L688.74 318.1 L691.07 324.9 L712.5 324.3Z M712.5 370.9 L678.31 368.15 L675.14 354.13 L678.31 368.15 L682.58 368.49 L679.41 354.47 L682.58 368.49 L686.86 368.84 L683.68 354.82 L686.86 368.84 L691.13 369.18 L687.96 355.16 L691.13 369.18 L712.5 370.9Z M712.5 417.75 L678.31 415.06 L675.11 401.04 L678.31 415.06 L682.58 415.4 L679.38 401.38 L682.58 415.4 L686.85 415.73 L683.66 401.72 L686.85 415.73 L691.13 416.07 L687.93 402.05 L691.13 416.07 L695.4 416.4 L693.8 409.4 L695.4 416.4 L712.5 417.75Z M712.5 464.55 L678.23 463.05 L674.55 449.16 L678.23 463.05 L682.52 463.24 L678.83 449.35 L682.52 463.24 L686.8 463.43 L683.11 449.53 L686.8 463.43 L691.08 463.61 L687.4 449.72 L691.08 463.61 L712.5 464.55Z M712.5 511.2 L678.28 508.93 L674.91 494.95 L678.28 508.93 L682.55 509.21 L679.18 495.24 L682.55 509.21 L686.83 509.5 L683.46 495.52 L686.83 509.5 L712.5 511.2Z M712.5 558.1 L678.34 554.99 L675.31 540.94 L678.34 554.99 L682.61 555.38 L679.58 541.33 L682.61 555.38 L686.88 555.77 L683.85 541.72 L686.88 555.77 L712.5 558.1Z M712.5 605 L678.7 599.16 L676.81 584.91 L678.7 599.16 L682.93 599.89 L681.04 585.64 L682.93 599.89 L687.15 600.62 L686.21 593.5 L687.15 600.62 L712.5 605Z M712.5 652 L679.05 644.4 L677.91 630.07 L679.05 644.4 L683.23 645.35 L682.09 631.02 L683.23 645.35 L712.5 652Z M712.5 698.1 L678.29 695.59 L675.02 681.59 L678.29 695.59 L682.57 695.9 L679.3 681.9 L682.57 695.9 L712.5 698.1Z M712.5 742.9 L678.22 741.88 L674.34 728.04 L678.22 741.88 L682.5 742.01 L680.56 735.09 L682.5 742.01 L712.5 742.9Z M712.5 778.3 L679.37 787.18 L671.68 775.03 L679.37 787.18 L712.5 778.3Z M712.5 805.4 L684.86 825.71 L673.28 817.19 L684.86 825.71 L712.5 805.4Z M712.5 824.6 L684.75 844.76 L673.22 836.18 L684.75 844.76 L712.5 824.6Z M712.5 837.1 L687.41 860.49 L674.92 853.38 L687.41 860.49 L712.5 837.1Z M712.5 845.4 L688.67 870.07 L675.83 863.63 L688.67 870.07 L712.5 845.4Z M712.5 849.9 L691.52 877.04 L695.46 871.95 L688.72 869.45 L695.46 871.95 L712.5 849.9Z" fill="#000" stroke="#000" stroke-width="1.8" stroke-linejoin="miter"/>
<rect x="83.5" y="95.5" width="629" height="770" fill="none" stroke="#000" stroke-width="1.11"/>
<path d="M83.5 865.3 v4.86 M146.4 865.3 v4.86 M209.3 865.3 v4.86 M272.2 865.3 v4.86 M335.1 865.3 v4.86 M398 865.3 v4.86 M460.9 865.3 v4.86 M523.8 865.3 v4.86 M586.7 865.3 v4.86 M649.6 865.3 v4.86 M712.5 865.3 v4.86 M83.5 95.5 h-4.86 M83.5 322.5 h-4.86 M83.5 455.5 h-4.86 M83.5 549.5 h-4.86 M83.5 622.5 h-4.86 M83.5 682.5 h-4.86 M83.5 733.5 h-4.86 M83.5 776.5 h-4.86 M83.5 815.5 h-4.86 M83.5 849.5 h-4.86" stroke="#000" stroke-width="1.11" fill="none"/>
<g font-family="'DejaVu Sans', 'Liberation Sans', sans-serif" font-size="13.89" fill="#000">
<text x="83.5" y="886.6" font-size="13.3" text-anchor="middle">−60</text>
<text x="146.4" y="886.6" font-size="13.3" text-anchor="middle">−50</text>
<text x="209.3" y="886.6" font-size="13.3" text-anchor="middle">−40</text>
<text x="272.2" y="886.6" font-size="13.3" text-anchor="middle">−30</text>
<text x="335.1" y="886.6" font-size="13.3" text-anchor="middle">−20</text>
<text x="398" y="886.6" font-size="13.3" text-anchor="middle">−10</text>
<text x="460.9" y="886.6" font-size="13.3" text-anchor="middle">0</text>
<text x="523.8" y="886.6" font-size="13.3" text-anchor="middle">10</text>
<text x="586.7" y="886.6" font-size="13.3" text-anchor="middle">20</text>
<text x="649.6" y="886.6" font-size="13.3" text-anchor="middle">30</text>
<text x="712.5" y="886.6" font-size="13.3" text-anchor="middle">40</text>
<text x="73.3" y="101" font-size="13.3" text-anchor="end">100</text>
<text x="73.3" y="327.94" font-size="13.3" text-anchor="end">200</text>
<text x="73.3" y="460.69" font-size="13.3" text-anchor="end">300</text>
<text x="73.3" y="554.87" font-size="13.3" text-anchor="end">400</text>
<text x="73.3" y="627.93" font-size="13.3" text-anchor="end">500</text>
<text x="73.3" y="687.62" font-size="13.3" text-anchor="end">600</text>
<text x="73.3" y="738.09" font-size="13.3" text-anchor="end">700</text>
<text x="73.3" y="781.81" font-size="13.3" text-anchor="end">800</text>
<text x="73.3" y="820.37" font-size="13.3" text-anchor="end">900</text>
<text x="73.3" y="854.87" font-size="13.3" text-anchor="end">1000</text>
<text x="398.0" y="908" text-anchor="middle">Temperature<tspan dx="1.9"> (</tspan><tspan font-size="9.72" dx="2.05" dy="-5.7">∘</tspan><tspan dx="1.85" dy="5.7">C)</tspan></text>
<text transform="translate(28.7 481.9) rotate(-90)" text-anchor="middle">Pressure (hPa)</text>
</g>
<rect x="91.4" y="704.6" width="154.1" height="153.8" fill="#fff"/>
<g clip-path="url(#ins)" fill="none">
<circle cx="168.1" cy="781.0" r="25.6" stroke="#808080" stroke-width="1.39" stroke-dasharray="5.14 2.22"/>
<circle cx="168.1" cy="781.0" r="51.2" stroke="#808080" stroke-width="1.39" stroke-dasharray="5.14 2.22"/>
<circle cx="168.1" cy="781.0" r="76.8" stroke="#808080" stroke-width="1.39" stroke-dasharray="5.14 2.22"/>
<circle cx="168.1" cy="781.0" r="102.4" stroke="#808080" stroke-width="1.39" stroke-dasharray="5.14 2.22"/>
<circle cx="168.1" cy="781.0" r="128.0" stroke="#808080" stroke-width="1.39" stroke-dasharray="5.14 2.22"/>
<path d="M91.4 781.0 H245.5 M168.1 858.4 V704.6" stroke="#808080" stroke-width="2.08" stroke-dasharray="7.71 3.33"/>
<path d="M175.7 770.3 L181.6 767" stroke="#440154" stroke-width="4.17"/>
<path d="M181.6 767 L187.5 763.7" stroke="#460a5d" stroke-width="4.17"/>
<path d="M187.5 763.7 L188.85 765.7" stroke="#471365" stroke-width="4.17"/>
<path d="M188.85 765.7 L190.2 767.7" stroke="#48186a" stroke-width="4.17"/>
<path d="M190.2 767.7 L193.1 771.7" stroke="#481d6f" stroke-width="4.17"/>
<path d="M193.1 771.7 L196 775.7" stroke="#482475" stroke-width="4.17"/>
<path d="M196 775.7 L198.95 778.35" stroke="#472a7a" stroke-width="4.17"/>
<path d="M198.95 778.35 L201.9 781" stroke="#472f7d" stroke-width="4.17"/>
<path d="M201.9 781 L204.6 781.55" stroke="#463480" stroke-width="4.17"/>
<path d="M204.6 781.55 L207.3 782.1" stroke="#443983" stroke-width="4.17"/>
<path d="M207.3 782.1 L209.7 781.85" stroke="#433e85" stroke-width="4.17"/>
<path d="M209.7 781.85 L212.1 781.6" stroke="#424086" stroke-width="4.17"/>
<path d="M212.1 781.6 L215.3 784.25" stroke="#414487" stroke-width="4.17"/>
<path d="M215.3 784.25 L218.5 786.9" stroke="#3e4a89" stroke-width="4.17"/>
<path d="M218.5 786.9 L220.1 788.8" stroke="#3b528b" stroke-width="4.17"/>
<path d="M220.1 788.8 L221.7 790.7" stroke="#38598c" stroke-width="4.17"/>
<path d="M221.7 790.7 L222.8 792.55" stroke="#355f8d" stroke-width="4.17"/>
<path d="M222.8 792.55 L223.9 794.4" stroke="#33638d" stroke-width="4.17"/>
<path d="M223.9 794.4 L226.55 792.8" stroke="#31678e" stroke-width="4.17"/>
<path d="M226.55 792.8 L229.2 791.2" stroke="#2d708e" stroke-width="4.17"/>
<path d="M229.2 791.2 L232.45 789.85" stroke="#2a788e" stroke-width="4.17"/>
<path d="M232.45 789.85 L235.7 788.5" stroke="#277e8e" stroke-width="4.17"/>
<path d="M235.7 788.5 L240.5 788.1" stroke="#25848e" stroke-width="4.17"/>
<path d="M240.5 788.1 L245.3 787.7" stroke="#238a8d" stroke-width="4.17"/>
<path d="M245.3 787.7 L250.65 787.35" stroke="#21918c" stroke-width="4.17"/>
<path d="M250.65 787.35 L256 787" stroke="#1f968b" stroke-width="4.17"/>
<path d="M256 787 L259 784" stroke="#1e9c89" stroke-width="4.17"/>
<path d="M259 784 L262 781" stroke="#22a884" stroke-width="4.17"/>
<path d="M262 781 L259 778.25" stroke="#2fb47c" stroke-width="4.17"/>
<path d="M259 778.25 L256 775.5" stroke="#44bf70" stroke-width="4.17"/>
<path d="M256 775.5 L250.65 774.8" stroke="#5ec962" stroke-width="4.17"/>
<path d="M250.65 774.8 L245.3 774.1" stroke="#6ccd5a" stroke-width="4.17"/>
<path d="M245.3 774.1 L242.6 773.55" stroke="#7ad151" stroke-width="4.17"/>
<path d="M242.6 773.55 L239.9 773" stroke="#84d44b" stroke-width="4.17"/>
<path d="M239.9 773 L236.15 771.95" stroke="#8ed645" stroke-width="4.17"/>
<path d="M236.15 771.95 L232.4 770.9" stroke="#9bd93c" stroke-width="4.17"/>
<path d="M232.4 770.9 L229.2 772.25" stroke="#a8db34" stroke-width="4.17"/>
<path d="M229.2 772.25 L226 773.6" stroke="#bade28" stroke-width="4.17"/>
<path d="M226 773.6 L222.25 774.55" stroke="#cae11f" stroke-width="4.17"/>
<path d="M222.25 774.55 L218.5 775.5" stroke="#d8e219" stroke-width="4.17"/>
<path d="M218.5 775.5 L215.3 774.65" stroke="#e5e419" stroke-width="4.17"/>
<path d="M215.3 774.65 L212.1 773.8" stroke="#f1e51d" stroke-width="4.17"/>
</g>
<rect x="91.5" y="704.5" width="154" height="154" fill="none" stroke="#000" stroke-width="1.11"/>
<g font-family="'DejaVu Sans', 'Liberation Sans', sans-serif" font-weight="bold" font-size="12.5" fill="#000" text-anchor="middle">
<text x="165.5" y="682.3">Wind Profile</text><text x="170.5" y="697">10m/s increment</text></g>
<g font-family="'DejaVu Sans', 'Liberation Sans', sans-serif" font-weight="bold" font-size="13.89" fill="#000">
<text x="10.3" y="20.8" xml:space="preserve" style="white-space:pre">SkewTLogP Haverfordwest</text>
<text x="10.3" y="36.9" xml:space="preserve" style="white-space:pre">Lat: 51.83   Lon: -4.96</text>
<text x="10.3" y="53.0" xml:space="preserve" style="white-space:pre">Simulation start time: 2024-07-19_00:00:00, Valid time: 2024-07-21T19:00:00.00</text>
<text x="10.3" y="69.5" xml:space="preserve" style="white-space:pre">CAPE=16 j/kg, CIN=-2 j/kg, LCL=977 hPa, LFC=972 hPa, EQ=845 hPa</text>
<text x="11.4" y="86.9" xml:space="preserve" style="white-space:pre">LFT IDX=9<tspan font-weight="normal" font-size="9.72" stroke="#000" stroke-width="0.15" dx="1.65" dy="-5.7">∘</tspan><tspan dx="2.5" dy="5.7">C,</tspan><tspan dx="0.5"> K IDX=21</tspan><tspan font-weight="normal" font-size="9.72" stroke="#000" stroke-width="0.15" dx="1.65" dy="-5.7">∘</tspan><tspan dx="2.5" dy="5.7">C,</tspan><tspan dx="0.5"> TOTAL TOTS=34</tspan><tspan font-weight="normal" font-size="9.72" stroke="#000" stroke-width="0.15" dx="1.65" dy="-5.7">∘</tspan><tspan dx="2.5" dy="5.7">C,</tspan><tspan dx="0.5"> SHWTR_IDX=10</tspan><tspan font-weight="normal" font-size="9.72" stroke="#000" stroke-width="0.15" dx="1.65" dy="-5.7">∘</tspan><tspan dx="2.5" dy="5.7">C</tspan></text>
</g>
</svg>
</body></html>
